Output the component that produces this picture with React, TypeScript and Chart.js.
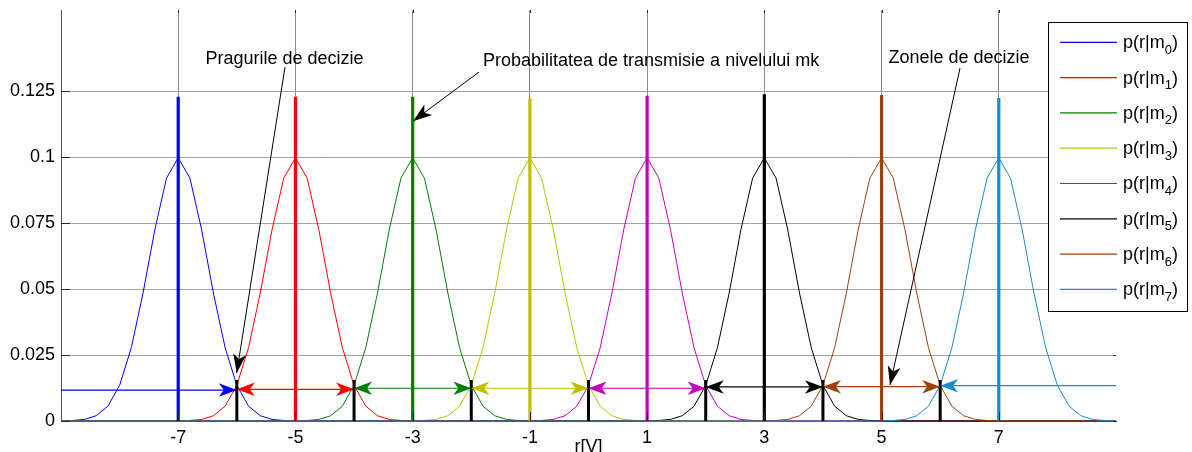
import React, { useEffect, useRef } from 'react';
import { Chart, registerables } from 'chart.js';

Chart.register(...registerables);

// ---- data ----
const levels = [-7, -5, -3, -1, 1, 3, 5, 7];
const seriesSubscripts = ['0', '1', '2', '3', '4', '5', '6', '7'];
const colors = ['#0000ff', '#ff0000', '#008000', '#bfbf00', '#bf00bf', '#000000', '#a0400a', '#1a8ad2'];
// curve shape around each level (offset in V, value)
const profileOffsets = [-2, -1.8, -1.6, -1.4, -1.2, -1, -0.8, -0.6, -0.4, -0.2, 0, 0.2, 0.4, 0.6, 0.8, 1, 1.2, 1.4, 1.6, 1.8, 2];
const profileValues = [0, 0.0002, 0.0006, 0.002, 0.0056, 0.0135, 0.0278, 0.0485, 0.0724, 0.092, 0.0997, 0.092, 0.0724, 0.0485, 0.0278, 0.0135, 0.0056, 0.002, 0.0006, 0.0002, 0];
const xRange = [-9, 9];
const yRange = [0, 0.1557];
const stemHeights = [0.1228, 0.1228, 0.1228, 0.1222, 0.1232, 0.1238, 0.1235, 0.1224];
const thresholds = [-6, -4, -2, 0, 2, 4, 6];
const thresholdHeights = [0.0155, 0.0155, 0.0155, 0.0155, 0.0155, 0.0155, 0.0155];
const zoneStarts = [-9, -6, -4, -2, 0, 2, 4, 6];
const zoneEnds = [-6, -4, -2, 0, 2, 4, 6, 9];
const zoneLevels = [0.0117, 0.012, 0.0124, 0.0124, 0.0124, 0.0129, 0.013, 0.0134];
const xTicks = [-7, -5, -3, -1, 1, 3, 5, 7];
const yTicks = [0, 0.025, 0.05, 0.075, 0.1, 0.125];
const xTitle = 'r[V]';
const noteTexts = ['Pragurile de decizie', 'Probabilitatea de transmisie a nivelului mk', 'Zonele de decizie'];
const noteTextX = [-5.187, -1.8, 6.322];
const noteTextY = [0.1352, 0.1343, 0.1355];
const noteAlign = ['center', 'left', 'center'];
const noteFromX = [-5.178, -1.868, 6.339];
const noteFromY = [0.1341, 0.1322, 0.1337];
const noteToX = [-6.002, -2.994, 5.144];
const noteToY = [0.0182, 0.1136, 0.0136];

const FONT = "'Liberation Sans', Arial, Helvetica, sans-serif";
const CANVAS_W = 1192;
const CANVAS_H = 470;

function arrowHead(ctx: CanvasRenderingContext2D, tx: number, ty: number, dx: number, dy: number, color: string, L = 18, W = 13.5, notch = 5) {
  const len = Math.hypot(dx, dy) || 1;
  const ux = dx / len, uy = dy / len;
  const nx = -uy, ny = ux;
  const bx = tx - ux * L, by = ty - uy * L;
  ctx.beginPath();
  ctx.moveTo(tx, ty);
  ctx.lineTo(bx + nx * W / 2, by + ny * W / 2);
  ctx.lineTo(tx - ux * (L - notch), ty - uy * (L - notch));
  ctx.lineTo(bx - nx * W / 2, by - ny * W / 2);
  ctx.closePath();
  ctx.fillStyle = color;
  ctx.fill();
}

const decorPlugin = {
  id: 'decor',
  afterDatasetsDraw(chart: any) {
    const { ctx, chartArea: a, scales } = chart;
    const x = scales.x, y = scales.y;
    ctx.save();
    // inward tick marks
    ctx.strokeStyle = '#262626';
    ctx.lineWidth = 1;
    ctx.beginPath();
    yTicks.forEach((v) => {
      const py = Math.round(y.getPixelForValue(v)) + 0.5;
      ctx.moveTo(a.left, py); ctx.lineTo(a.left + 9, py);
      ctx.moveTo(a.right, py); ctx.lineTo(a.right - 3, py);
    });
    xTicks.forEach((v) => {
      const px = Math.round(x.getPixelForValue(v)) + 0.5;
      ctx.moveTo(px, a.bottom); ctx.lineTo(px, a.bottom - 9);
      ctx.moveTo(px, a.top); ctx.lineTo(px, a.top + 3);
    });
    ctx.stroke();

    // zone arrow heads
    zoneStarts.forEach((s, i) => {
      const py = y.getPixelForValue(zoneLevels[i]);
      if (s > xRange[0]) arrowHead(ctx, x.getPixelForValue(s), py, -1, 0, colors[i]);
      if (zoneEnds[i] < xRange[1]) arrowHead(ctx, x.getPixelForValue(zoneEnds[i]), py, 1, 0, colors[i]);
    });

    // annotations
    ctx.font = `18px ${FONT}`;
    ctx.textBaseline = 'alphabetic';
    noteTexts.forEach((t, i) => {
      ctx.fillStyle = '#000';
      ctx.textAlign = noteAlign[i] as CanvasTextAlign;
      ctx.fillText(t, x.getPixelForValue(noteTextX[i]), y.getPixelForValue(noteTextY[i]));
      const fx = x.getPixelForValue(noteFromX[i]), fy = y.getPixelForValue(noteFromY[i]);
      const tx = x.getPixelForValue(noteToX[i]), ty = y.getPixelForValue(noteToY[i]);
      ctx.strokeStyle = '#000';
      ctx.lineWidth = 1;
      ctx.beginPath();
      ctx.moveTo(fx, fy);
      ctx.lineTo(tx, ty);
      ctx.stroke();
      arrowHead(ctx, tx, ty, tx - fx, ty - fy, '#000', 19, 13, 5);
    });
    ctx.restore();
  },
  afterDraw(chart: any) {
    const { ctx } = chart;
    ctx.save();
    const left = 1048, top = 22, w = 139, h = 289;
    ctx.fillStyle = '#fff';
    ctx.fillRect(left, top, w, h);
    ctx.strokeStyle = '#000';
    ctx.lineWidth = 1;
    ctx.strokeRect(left + 0.5, top + 0.5, w, h);
    seriesSubscripts.forEach((sub, i) => {
      const cy = top + 20.3 + i * 35.3;
      ctx.strokeStyle = colors[i];
      ctx.lineWidth = 1.2;
      ctx.beginPath();
      ctx.moveTo(left + 12, cy);
      ctx.lineTo(left + 69, cy);
      ctx.stroke();
      ctx.fillStyle = '#000';
      ctx.textAlign = 'left';
      ctx.textBaseline = 'middle';
      ctx.font = `18px ${FONT}`;
      let tx = left + 75;
      const main = 'p(r|m';
      ctx.fillText(main, tx, cy + 1);
      tx += ctx.measureText(main).width;
      ctx.font = `13px ${FONT}`;
      ctx.fillText(sub, tx, cy + 8);
      tx += ctx.measureText(sub).width;
      ctx.font = `18px ${FONT}`;
      ctx.fillText(')', tx, cy + 1);
    });
    ctx.restore();
  },
};

function buildDatasets() {
  const ds: any[] = [];
  // threshold stems (top-most)
  thresholds.forEach((t, i) => {
    ds.push({
      data: [{ x: t, y: 0 }, { x: t, y: thresholdHeights[i] }],
      borderColor: '#000', borderWidth: 3, order: 1, clip: false,
    });
  });
  // zone arrow shafts
  zoneStarts.forEach((s, i) => {
    ds.push({
      data: [{ x: s, y: zoneLevels[i] }, { x: zoneEnds[i], y: zoneLevels[i] }],
      borderColor: colors[i], borderWidth: 1.2, order: 5, clip: false,
    });
  });
  // level stems
  levels.forEach((lv, i) => {
    ds.push({
      data: [{ x: lv, y: 0 }, { x: lv, y: stemHeights[i] }],
      borderColor: colors[i], borderWidth: 3.2, order: 10, clip: false,
    });
  });
  // probability curves
  levels.forEach((lv, i) => {
    const pts: { x: number; y: number }[] = [];
    if (lv + profileOffsets[0] > xRange[0]) pts.push({ x: xRange[0], y: 0 });
    profileOffsets.forEach((o, j) => pts.push({ x: lv + o, y: profileValues[j] }));
    if (lv + profileOffsets[profileOffsets.length - 1] < xRange[1]) pts.push({ x: xRange[1], y: 0 });
    ds.push({
      data: pts, borderColor: colors[i], borderWidth: 1, order: 100 - i, clip: false,
    });
  });
  return ds;
}

export default function App() {
  const ref = useRef<HTMLCanvasElement | null>(null);
  useEffect(() => {
    if (!ref.current) return;
    const font = { family: FONT, size: 18 };
    const chart = new Chart(ref.current, {
      type: 'line',
      data: { datasets: buildDatasets() },
      options: {
        responsive: false,
        animation: false,
        devicePixelRatio: 1,
        events: [],
        layout: { autoPadding: false, padding: { left: 0, right: CANVAS_W - 1116, top: 10, bottom: 0 } },
        plugins: { legend: { display: false }, tooltip: { enabled: false } },
        elements: { point: { radius: 0 }, line: { tension: 0 } },
        scales: {
          x: {
            type: 'linear',
            min: xRange[0],
            max: xRange[1],
            afterBuildTicks: (s: any) => { s.ticks = xTicks.map((v) => ({ value: v })); },
            afterFit: (s: any) => { s.height = CANVAS_H - 421; s.paddingLeft = 0; s.paddingRight = 0; },
            grid: { color: '#8c8c8c', lineWidth: 1, drawTicks: false },
            border: { display: true, color: '#555', width: 1 },
            ticks: { padding: 6, color: '#000', font, autoSkip: false, maxRotation: 0, callback: (v: any) => String(v) },
            title: { display: true, text: xTitle, color: '#000', font, padding: { top: 0, bottom: 12 } },
          },
          y: {
            type: 'linear',
            min: yRange[0],
            max: yRange[1],
            afterBuildTicks: (s: any) => { s.ticks = yTicks.map((v) => ({ value: v })); },
            afterFit: (s: any) => { s.width = 61; s.paddingTop = 0; s.paddingBottom = 0; },
            grid: { color: '#a3a3a3', lineWidth: 1, drawTicks: false },
            border: { display: true, color: '#555', width: 1 },
            ticks: { padding: 6, color: '#000', font, autoSkip: false, callback: (v: any) => String(v) },
          },
        },
      } as any,
      plugins: [decorPlugin],
    });
    return () => chart.destroy();
  }, []);
  return (
    <div style={{ position: 'absolute', left: 0, top: 0, width: CANVAS_W, height: 452, overflow: 'hidden', background: '#fff' }}>
      <canvas ref={ref} width={CANVAS_W} height={CANVAS_H} style={{ display: 'block', width: CANVAS_W, height: CANVAS_H }} />
    </div>
  );
}
